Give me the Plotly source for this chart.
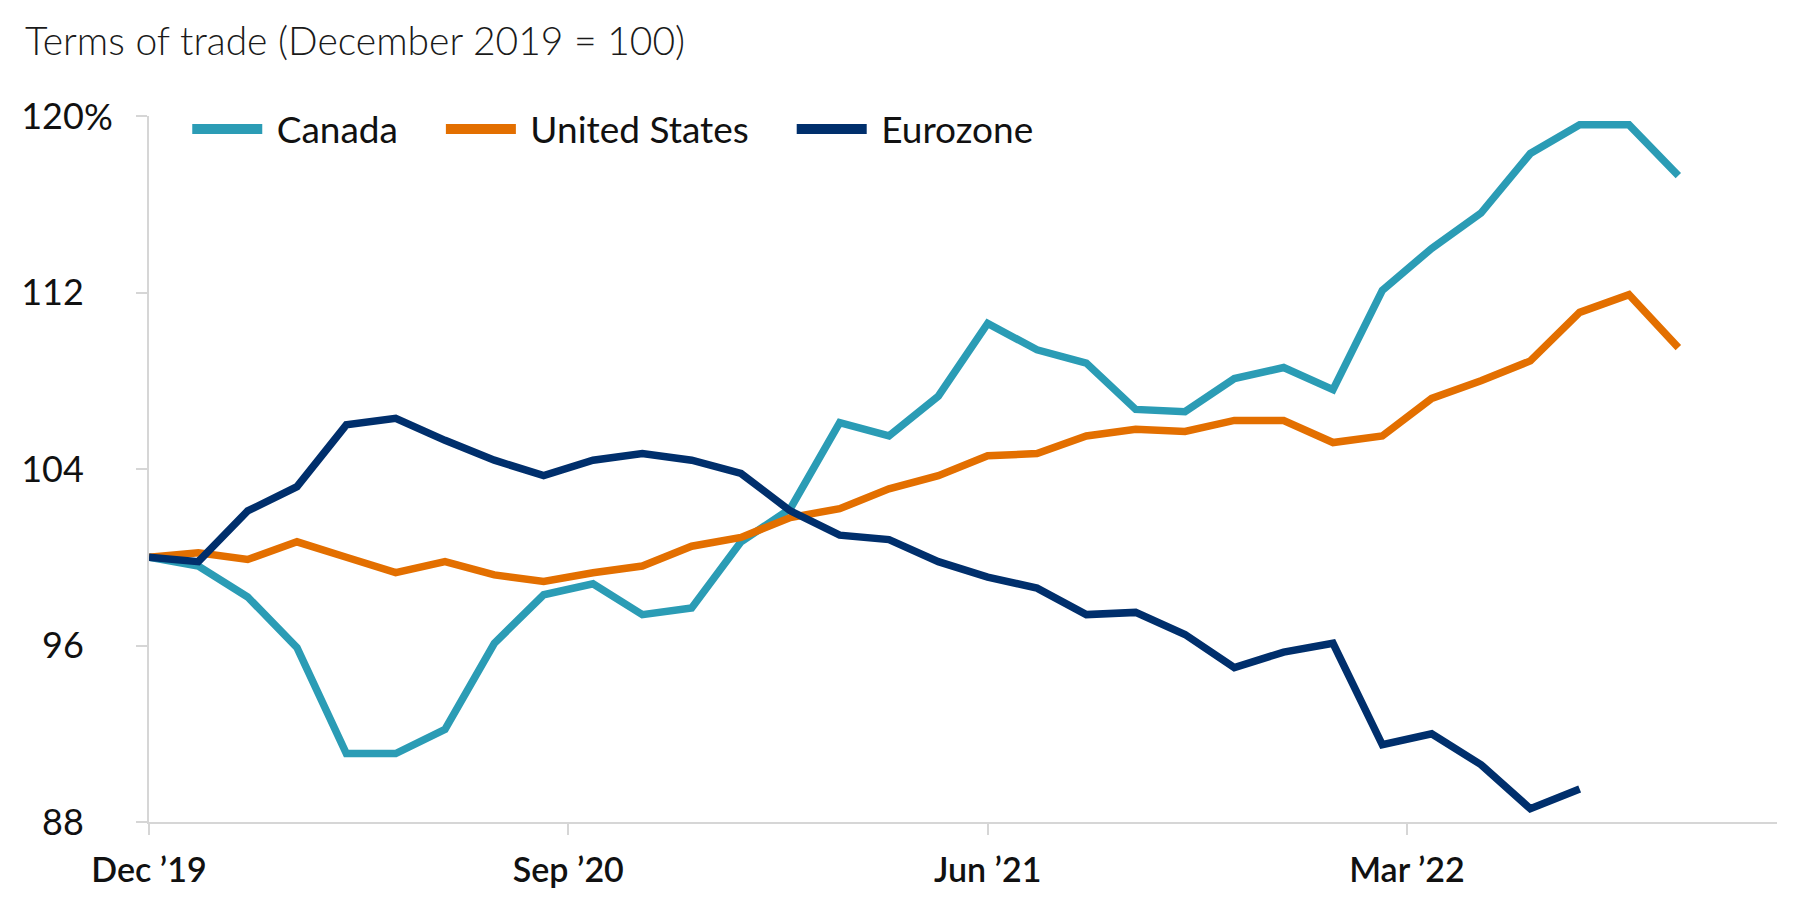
import plotly.graph_objects as go

# ---- data ----
period_index = list(range(32))  # consecutive observation periods starting Dec 2019

canada = [100.0, 99.6, 98.2, 95.9, 91.1, 91.1, 92.2, 96.1, 98.3, 98.8, 97.4, 97.7,
          100.7, 102.2, 106.1, 105.5, 107.3, 110.6, 109.4, 108.8, 106.7, 106.6,
          108.1, 108.6, 107.6, 112.1, 114.0, 115.6, 118.3, 119.6, 119.6, 117.3]
united_states = [100.0, 100.2, 99.9, 100.7, 100.0, 99.3, 99.8, 99.2, 98.9, 99.3, 99.6,
                 100.5, 100.9, 101.8, 102.2, 103.1, 103.7, 104.6, 104.7, 105.5, 105.8,
                 105.7, 106.2, 106.2, 105.2, 105.5, 107.2, 108.0, 108.9, 111.1, 111.9, 109.5]
eurozone = [100.0, 99.8, 102.1, 103.2, 106.0, 106.3, 105.3, 104.4, 103.7, 104.4, 104.7,
            104.4, 103.8, 102.1, 101.0, 100.8, 99.8, 99.1, 98.6, 97.4, 97.5, 96.5,
            95.0, 95.7, 96.1, 91.5, 92.0, 90.6, 88.6, 89.5]

series_names = ["Canada", "United States", "Eurozone"]
series_colors = ["#2B9CB5", "#E36F00", "#002F6C"]

x_tick_positions = [0, 8.5, 17, 25.5]
x_tick_labels = ["Dec \u201919", "Sep \u201920", "Jun \u201921", "Mar \u201922"]
y_tick_values = [88, 96, 104, 112, 120]
y_tick_labels = ["88", "96", "104", "112", "120"]
y_unit_suffix = "%"   # shown after the top y tick label only

title_text = "Terms of trade (December 2019 = 100)"

FONT = "Lato, 'Liberation Sans', Arial, sans-serif"
AXIS_GREY = "#D6D6D6"
NB = "\u00a0"
PLOT_L, PLOT_W = 141, 1792 - 141 - 23

fig = go.Figure()
for name, vals, col in zip(series_names, [canada, united_states, eurozone], series_colors):
    fig.add_trace(go.Scatter(
        x=period_index[:len(vals)], y=vals, name=name, mode="lines",
        line=dict(color=col, width=7.5, shape="linear"),
        showlegend=False, legendgroup=name,
        hovertemplate=name + ": %{y:.1f}<extra></extra>",
    ))
# legend entries (thicker key lines, as in the reference)
for name, col in zip(series_names, series_colors):
    fig.add_trace(go.Scatter(
        x=[None], y=[None], name=NB + name + NB * 4, mode="lines",
        line=dict(color=col, width=12), legendgroup=name, hoverinfo="skip",
    ))

fig.update_layout(
    width=1792, height=899,
    paper_bgcolor="white", plot_bgcolor="white",
    margin=dict(l=PLOT_L, r=23, t=108, b=85, autoexpand=False),
    font=dict(family=FONT, color="#111111", size=34),
    title=dict(text=title_text, x=17 / 1792, xanchor="left",
               y=1 - 33 / 899, yanchor="middle", xref="container", yref="container",
               font=dict(family=FONT, size=39, color="#1A1A1A", weight=300)),
    showlegend=True,
    legend=dict(orientation="h", x=0.0235, xanchor="left", y=0.981, yanchor="middle",
                font=dict(family=FONT, size=37, color="#111111"),
                bgcolor="rgba(0,0,0,0)", itemwidth=70, tracegroupgap=0),
)

# unit suffix hanging to the right of the top tick label
fig.add_annotation(
    text=y_unit_suffix, xref="paper", x=(74 - 141) / PLOT_W, xanchor="left",
    yref="y", y=y_tick_values[-1], yanchor="middle", showarrow=False,
    font=dict(family=FONT, size=36, color="#111111"),
)

fig.update_xaxes(
    range=[0, 33], tickmode="array", tickvals=x_tick_positions, ticktext=x_tick_labels,
    showgrid=False, zeroline=False, showline=True, linecolor=AXIS_GREY, linewidth=2,
    ticks="outside", ticklen=11, tickwidth=2, tickcolor=AXIS_GREY,
    tickfont=dict(family=FONT, size=34, color="#111111", weight=600),
    ticklabelstandoff=6,
)
fig.update_yaxes(
    range=[88, 120], tickmode="array", tickvals=y_tick_values, ticktext=y_tick_labels,
    showgrid=False, zeroline=False, showline=True, linecolor=AXIS_GREY, linewidth=2,
    ticks="outside", ticklen=11, tickwidth=2, tickcolor=AXIS_GREY,
    tickfont=dict(family=FONT, size=36, color="#111111"),
    ticklabelstandoff=45,
)

fig.write_html("out.html")
